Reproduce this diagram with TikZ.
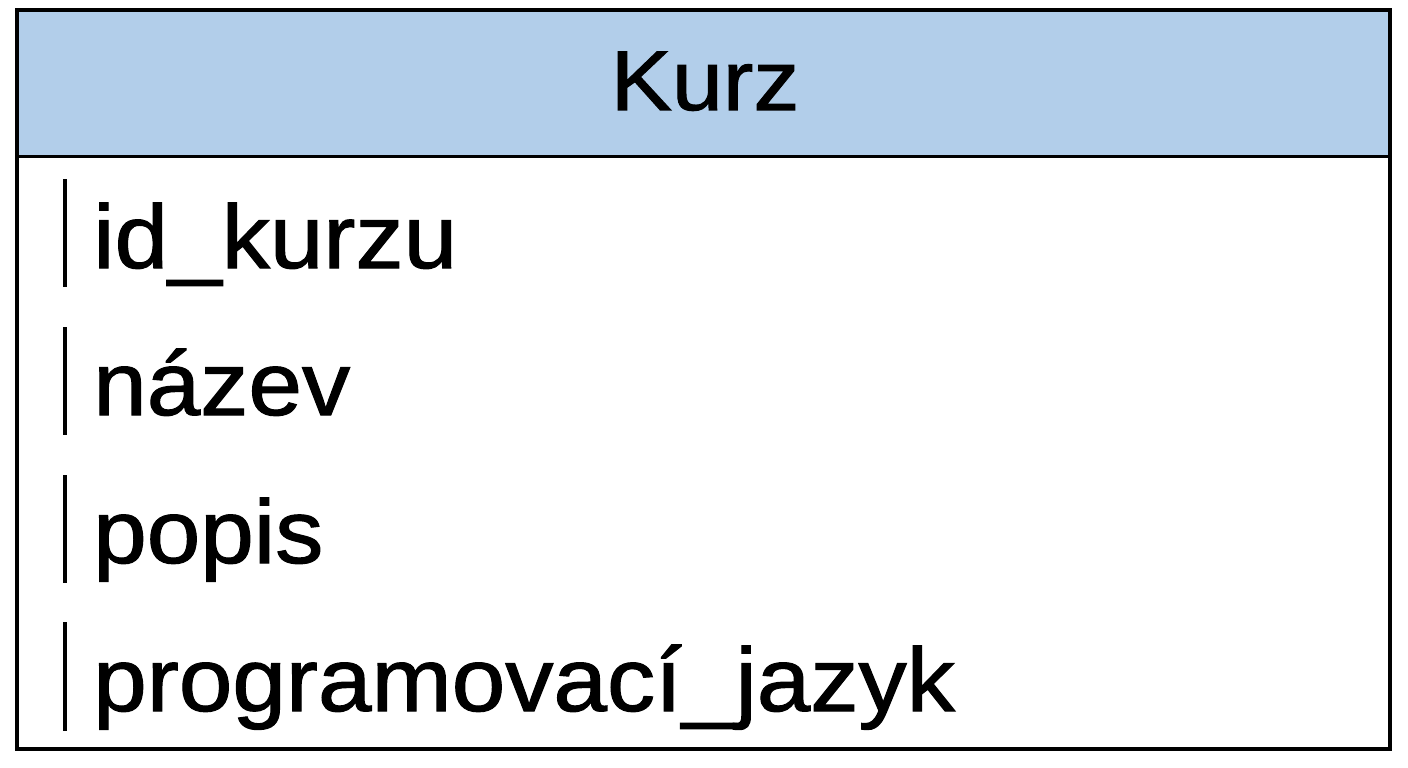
\documentclass[tikz,border=0pt]{standalone}
\usepackage{fontspec}
\setmainfont{Liberation Sans}
\newfontfamily\heavyfont[FakeBold=1.2]{Liberation Sans}
\definecolor{headblue}{HTML}{B2CEEA}
\tikzset{
  rowtext/.style={font=\heavyfont\fontsize{90}{100}\selectfont, anchor=base west, inner sep=0pt, xscale=1.07, text=black},
  titletext/.style={font=\heavyfont\fontsize{85}{96}\selectfont, anchor=base, inner sep=0pt, xscale=1.08, text=black},
  keybar/.style={line width=4pt, black},
  frame/.style={line width=4pt, black},
  sepline/.style={line width=3pt, black}
}
\begin{document}
\begin{tikzpicture}[x=1pt,y=-1pt]
\useasboundingbox (0,0) rectangle (1408,768);
\fill[white] (0,0) rectangle (1408,768);
% header
\fill[headblue] (17,10) rectangle (1390,156);
\draw[sepline] (17,156) -- (1390,156);
\draw[frame] (17,10) rectangle (1390,749);
\node[titletext] (title) at (705,110) {Kurz};
% rows
\node[rowtext] (r1) at (93,268) {id\_kurzu};
\node[rowtext] (r2) at (93,415) {název};
\node[rowtext] (r3) at (93,563) {popis};
\node[rowtext] (r4) at (93,711) {programovací\_jazyk};
% key bars
\draw[keybar] (65,179) -- (65,287);
\draw[keybar] (65,327) -- (65,435);
\draw[keybar] (65,475) -- (65,583);
\draw[keybar] (65,622) -- (65,731);
\end{tikzpicture}
\end{document}
